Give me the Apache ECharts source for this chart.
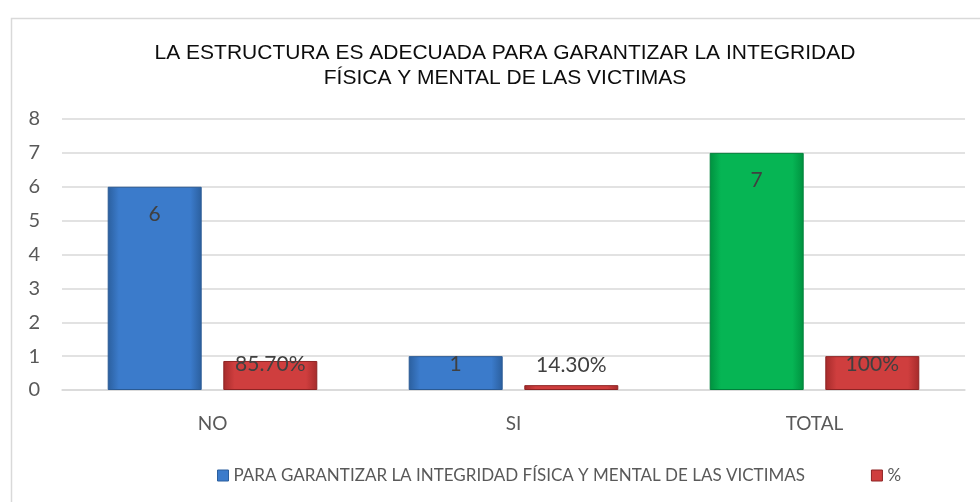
<!DOCTYPE html>
<html>
<head>
<meta charset="utf-8">
<script src="https://cdn.jsdelivr.net/npm/echarts@6/dist/echarts.min.js"></script>
<style>html,body{margin:0;padding:0;background:#fff}#c{width:980px;height:502px}</style>
</head>
<body>
<div id="c"></div>
<script>
const categories = ['NO', 'SI', 'TOTAL'];
const countName = 'PARA GARANTIZAR LA INTEGRIDAD FÍSICA Y MENTAL DE LAS VICTIMAS';
const pctName = '%';
const countValues = [6, 1, 7];
const pctValues = [0.857, 0.143, 1];
const pctLabels = ['85.70%', '14.30%', '100%'];
const yTicks = [0, 1, 2, 3, 4, 5, 6, 7, 8];

function grad(edge, mid) {
  return new echarts.graphic.LinearGradient(0, 0, 1, 0, [
    {offset: 0, color: edge}, {offset: 0.12, color: mid}, {offset: 0.88, color: mid}, {offset: 1, color: edge}
  ]);
}
const blueFill = grad('#2b5f9e', '#3b7bcb');
const greenFill = grad('#00913f', '#06b554');
const redFill = grad('#a52b2b', '#cf3e3e');

const chart = echarts.init(document.getElementById('c'), null, {renderer: 'canvas'});
chart.setOption({
  backgroundColor: '#fff',
  animation: false,
  graphic: [{
    type: 'rect', left: 9, top: 16, shape: {width: 985, height: 500},
    style: {fill: 'none', stroke: '#d9d9d9', lineWidth: 1.5}, silent: true, z: -1
  }],
  title: {
    text: 'LA ESTRUCTURA ES ADECUADA PARA GARANTIZAR LA INTEGRIDAD\nFÍSICA Y MENTAL DE LAS VICTIMAS',
    left: 500, textAlign: 'center', top: 36,
    textStyle: {fontFamily: 'Liberation Sans', fontSize: 21, fontWeight: 'normal', color: '#0d0d0d', lineHeight: 25}
  },
  legend: {
    left: 212, top: 462, width: 770, itemWidth: 11, itemHeight: 11, itemGap: 66, icon: 'rect',
    textStyle: {fontFamily: 'Lato', fontSize: 17, color: '#595959'},
    data: [
      {name: countName, itemStyle: {color: '#3b7bcb', borderColor: '#2b5f9e', borderWidth: 1}},
      {name: pctName, itemStyle: {color: '#cf3e3e', borderColor: '#8e2323', borderWidth: 1}}
    ]
  },
  grid: {left: 62, right: 15, top: 119, bottom: 112},
  xAxis: {
    type: 'category', data: categories,
    axisLine: {show: true, lineStyle: {color: '#d9d9d9', width: 1.5}},
    axisTick: {show: false},
    axisLabel: {fontFamily: 'Lato', fontSize: 19, color: '#595959', margin: 24}
  },
  yAxis: {
    type: 'value', min: yTicks[0], max: yTicks[yTicks.length - 1], interval: 1,
    axisLine: {show: false}, axisTick: {show: false},
    splitLine: {lineStyle: {color: '#d9d9d9', width: 1.5}},
    axisLabel: {fontFamily: 'Lato', fontSize: 20, color: '#595959', margin: 22}
  },
  series: [
    {
      name: countName, type: 'bar', barWidth: 94, barGap: '23%',
      itemStyle: {color: blueFill, borderColor: '#2a5a94', borderWidth: 1},
      label: {
        show: true, position: 'insideTop', distance: 17,
        fontFamily: 'Lato', fontSize: 21, color: '#404040'
      },
      data: countValues.map((v, i) => {
        const item = {value: v};
        if (categories[i] === 'TOTAL') item.itemStyle = {color: greenFill, borderColor: '#00803a'};
        if (v < 2) item.label = {distance: -2};
        return item;
      })
    },
    {
      name: pctName, type: 'bar', barWidth: 94,
      itemStyle: {color: redFill, borderColor: '#8e2323', borderWidth: 1},
      label: {
        show: true, position: 'insideTop', distance: -7,
        fontFamily: 'Lato', fontSize: 21, color: '#404040',
        formatter: p => pctLabels[p.dataIndex]
      },
      data: pctValues.map((v, i) => {
        const item = {value: v};
        if (v < 0.5) item.label = {position: 'top', distance: 9};
        else if (v >= 1) item.label = {distance: -2};
        return item;
      })
    }
  ]
});
</script>
</body>
</html>
